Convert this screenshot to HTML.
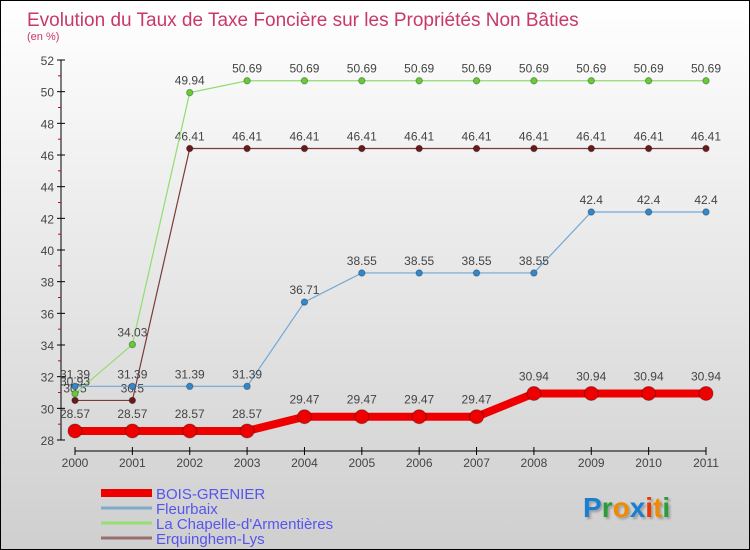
<!DOCTYPE html>
<html><head><meta charset="utf-8"><style>
body{margin:0}
#wrap{width:748px;height:548px;border:1px solid #000;background:linear-gradient(#fff,#cfcfcf);position:relative;overflow:hidden;font-family:"Liberation Sans",sans-serif}
</style></head><body>
<div id="wrap">
<svg id="chart" width="748" height="548"></svg>
</div>
<script>
const years=["2000","2001","2002","2003","2004","2005","2006","2007","2008","2009","2010","2011"];
const bois=[28.57,28.57,28.57,28.57,29.47,29.47,29.47,29.47,30.94,30.94,30.94,30.94];
const fleurbaix=[31.39,31.39,31.39,31.39,36.71,38.55,38.55,38.55,38.55,42.4,42.4,42.4];
const chapelle=[30.93,34.03,49.94,50.69,50.69,50.69,50.69,50.69,50.69,50.69,50.69,50.69];
const erquinghem=[30.5,30.5,46.41,46.41,46.41,46.41,46.41,46.41,46.41,46.41,46.41,46.41];
const yTicks=[28,30,32,34,36,38,40,42,44,46,48,50,52];
const seriesNames=["BOIS-GRENIER","Fleurbaix","La Chapelle-d'Armentières","Erquinghem-Lys"];
const NS="http://www.w3.org/2000/svg";
const svg=document.getElementById('chart');
function X(i){return 74+i*(631/11);}
function Y(v){return 439-(v-28)*(380/24);}
function el(t,a,p){const e=document.createElementNS(NS,t);for(const k in a)e.setAttribute(k,a[k]);(p||svg).appendChild(e);return e;}
function txt(x,y,s,a,p){const t=el('text',Object.assign({x:x,y:y},a),p);t.textContent=s;return t;}
let t=txt(26,25,"Evolution du Taux de Taxe Foncière sur les Propriétés Non Bâties",{fill:"#c8386a","font-size":"19"});

t=txt(26,39,"(en %)",{fill:"#c8386a","font-size":"11"});

let a=el('line',{x1:60,y1:Y(52),x2:60,y2:Y(28),stroke:"#000"});

yTicks.forEach(v=>{
 el('line',{x1:56,x2:64,y1:Y(v),y2:Y(v),stroke:"#000"});
 const l=txt(53,Y(v)+5,String(v),{fill:"#444","font-size":"12","text-anchor":"end"});
 
 if(v<52) el('line',{x1:57,x2:60,y1:Y(v+1),y2:Y(v+1),stroke:"#d00"});
});
a=el('line',{x1:X(0),y1:450,x2:X(11),y2:450,stroke:"#000"});

years.forEach((y,i)=>{
 el('line',{x1:X(i),x2:X(i),y1:446,y2:454,stroke:"#000"});
 const l=txt(X(i),466,y,{fill:"#444","font-size":"12","text-anchor":"middle"});
 
});
function series(data,color,w,r,dot,name,lblOff){
 const g=el('g',{});
 
 el('polyline',{points:data.map((v,i)=>X(i)+','+Y(v)).join(' '),fill:"none",stroke:color,"stroke-width":w},g);
 data.forEach((v,i)=>{
  const c=el('circle',{cx:X(i),cy:Y(v),r:r,fill:dot,stroke:"rgba(0,0,0,0.3)"},g);
  
  const l=txt(X(i),Y(v)-lblOff,String(v),{fill:"#444","font-size":"12","text-anchor":"middle"},g);
  
 });
}
series(erquinghem,"#7a3b3b",1.2,3.2,"#6a1a1a","series-erquinghem",8);
series(chapelle,"#90dd70",1.2,3.2,"#66cc33","series-chapelle",8);
series(fleurbaix,"#6fa8d8",1.2,3.2,"#3388cc","series-fleurbaix",8);
series(bois,"#ee0000",8,7,"#ee0000","series-bois-grenier",13);
const lc=["#ee0000","#80aacc","#99dd77","#997070"],lw=[8,3,3,3];
seriesNames.forEach((n,i)=>{
 const y=492+i*15;
 const g=el('g',{});
 
 el('line',{x1:100,x2:151,y1:y,y2:y,stroke:lc[i],"stroke-width":lw[i]},g);
 txt(155,y+6,n,{fill:"#5555ee","font-size":"15"},g);
});
const lg=el('text',{x:582,y:516,"font-size":"28","font-weight":"bold",style:"filter:drop-shadow(2px 2px 1px rgba(0,0,0,0.25))"});

[["P","#1a7fd0"],["r","#2a9d3a"],["o","#f08a00"],["x","#1a7fd0"],["i","#e63a00"],["t","#f08a00"],["i","#2a9d3a"]].forEach(([c,f])=>{const s=el('tspan',{fill:f},lg);s.textContent=c;});
</script>
</body></html>
